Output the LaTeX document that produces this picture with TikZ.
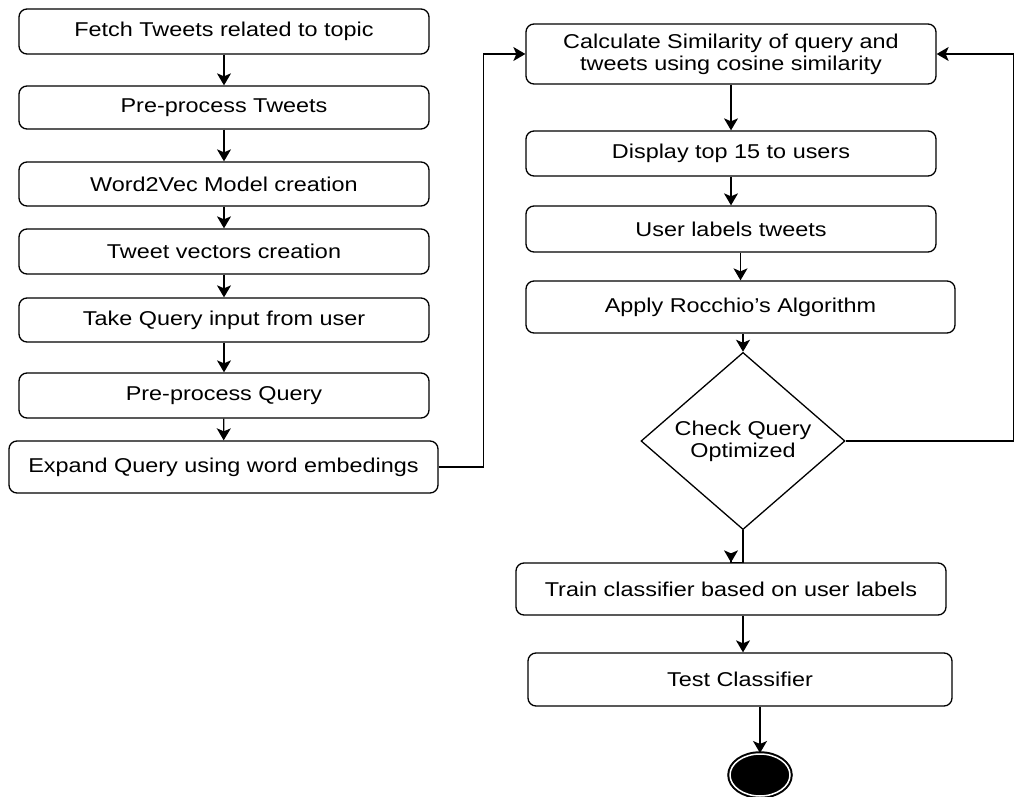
\documentclass[tikz,border=0pt]{standalone}
\usepackage{fontspec}
\setmainfont{Liberation Sans}[FakeStretch=1.17]
\usetikzlibrary{arrows.meta,shapes.geometric}
\begin{document}
\begin{tikzpicture}[x=1pt,y=-1pt,
    every node/.style={font=\fontsize{20}{22}\selectfont, align=center, inner sep=0pt},
    stepbox/.style={draw, rounded corners=8pt, line width=1.3pt, minimum width=410pt, minimum height=45pt},
    widebox/.style={stepbox, minimum width=429pt, minimum height=52pt},
    choice/.style={draw, diamond, line width=1.3pt, minimum width=204pt, minimum height=135pt},
    stopnode/.style={draw, ellipse, fill=black, line width=2pt, double=white, double distance=1.5pt, minimum width=60pt, minimum height=42pt}]
  \useasboundingbox (0,0) rectangle (1015,797);
  \draw
    (224,31.5) node[stepbox] (fetch){Fetch Tweets related to topic}
    (224,107.5) node[stepbox, minimum height=43pt] (pretw){Pre-process Tweets}
    (224,184) node[stepbox, minimum height=44pt] (wvec){Word2Vec Model creation}
    (224,251.5) node[stepbox] (tvec){Tweet vectors creation}
    (224,320) node[stepbox, minimum height=44pt] (query){Take Query input from user}
    (224,395.5) node[stepbox] (preq){Pre-process Query}
    (223.5,467) node[widebox] (expand){Expand Query using word embedings}
    (731,54) node[stepbox, minimum height=60pt] (sim){Calculate Similarity of query and\\tweets using cosine similarity}
    (731,153.5) node[stepbox] (top){Display top 15 to users}
    (731,229) node[stepbox, minimum height=46pt] (label){User labels tweets}
    (740.5,307) node[widebox] (rocchio){Apply Rocchio's Algorithm}
    (743,441) node[choice] (check){Check Query\\Optimized}
    (731,589) node[widebox, minimum width=430pt] (train){Train classifier based on user labels}
    (740,679.5) node[widebox, minimum width=424pt, minimum height=53pt] (test){Test Classifier}
    (760,775) node[stopnode] (stop){};
  \begin{scope}[-{Stealth[length=12pt,width=14pt,inset=3pt]}, line width=1.3pt]
    \draw (fetch) to (pretw);
    \draw (pretw) to (wvec);
    \draw (wvec) to (tvec);
    \draw (tvec) to (query);
    \draw (query) to (preq);
    \draw (preq) to (expand);
    \draw (expand.east) -- ++(45,0) |- (sim.west);
    \draw (sim) to (top);
    \draw (top) to (label);
    \draw (rocchio.north |- label.south) to (rocchio.north);
    \draw (check.north |- rocchio.south) to (check.north);
    \draw (check.east) -- ++(168,0) |- (sim.east);
    \draw (check.south) -- ++(0,32) -| (train.north);
    \draw (train.south -| check.south) to (test.north -| check.south);
    \draw (stop.north |- test.south) to (stop.north);
  \end{scope}
\end{tikzpicture}
\end{document}
